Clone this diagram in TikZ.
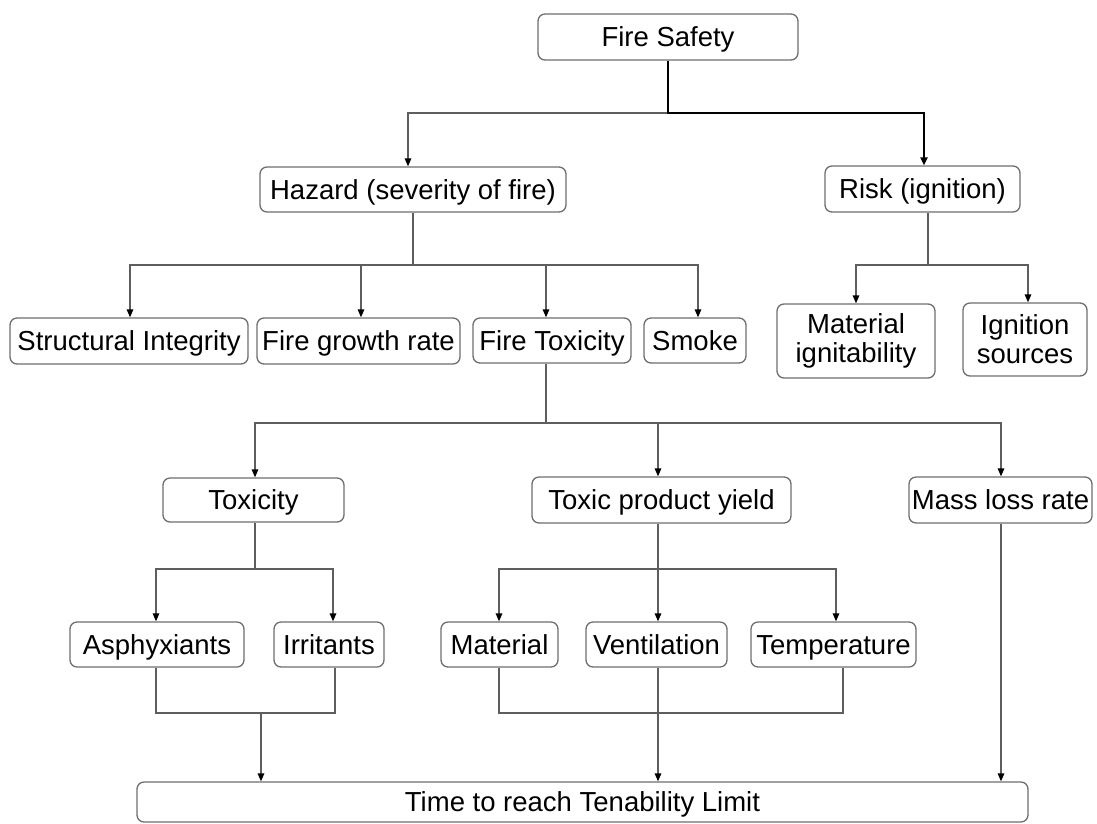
\documentclass[tikz,border=0pt]{standalone}
\usepackage{fontspec}
\setmainfont{Liberation Sans}
\usetikzlibrary{arrows.meta}
\definecolor{boxgrey}{HTML}{6E6E6E}
\definecolor{linegrey}{HTML}{5E5E5E}
\begin{document}
\begin{tikzpicture}[x=1pt,y=-1pt,
  box/.style={draw=boxgrey, line width=1.3pt, rounded corners=7pt, fill=white,
    inner sep=0pt, align=center, text=black, font=\fontsize{27.5}{29}\selectfont},
  onebox/.style={box, text height=19.8pt, text depth=0pt},
  conn/.style={draw=linegrey, line width=1.4pt},
  arr/.style={conn, -{Triangle[length=8pt,width=6.5pt,color=black]}},
  thickarr/.style={draw=black, line width=2.6pt, -{Triangle[length=8pt,width=7pt,color=black]}}]
\useasboundingbox (0,0) rectangle (1097,823);

% nodes
\node[onebox, minimum width=260pt, minimum height=46pt] (fs)   at (668,37)    {Fire Safety};
\node[onebox, minimum width=306pt, minimum height=45pt] (haz)  at (413,189.5) {Hazard (severity of fire)};
\node[onebox, minimum width=195pt, minimum height=46pt] (risk) at (922.5,189) {Risk (ignition)};

\node[onebox, minimum width=238pt, minimum height=46pt] (si)   at (129,341)   {Structural Integrity};
\node[onebox, minimum width=203pt, minimum height=46pt] (fgr)  at (358.5,341) {Fire growth rate};
\node[onebox, minimum width=158pt, minimum height=45pt] (ft)   at (552,340.5) {Fire Toxicity};
\node[onebox, minimum width=102pt, minimum height=45pt] (sm)   at (695,340.5) {Smoke};
\node[box, minimum width=158pt, minimum height=74pt] (mi)   at (856,341)   {Material\\ignitability};
\node[box, minimum width=124pt, minimum height=73pt] (is)   at (1025,339.5) {Ignition\\sources};

\node[onebox, minimum width=181pt, minimum height=44pt] (tox)  at (253.5,500) {Toxicity};
\node[onebox, minimum width=259pt, minimum height=46pt] (tpy)  at (661.5,500) {Toxic product yield};
\node[onebox, minimum width=183pt, minimum height=46pt] (mlr)  at (1000.5,500) {Mass loss rate};

\node[onebox, minimum width=174pt, minimum height=45pt] (asp)  at (157,644.5) {Asphyxiants};
\node[onebox, minimum width=110pt, minimum height=45pt] (irr)  at (329,644.5) {Irritants};
\node[onebox, minimum width=117pt, minimum height=45pt] (mat)  at (499.5,644.5) {Material};
\node[onebox, minimum width=141pt, minimum height=45pt] (ven)  at (656.5,644.5) {Ventilation};
\node[onebox, minimum width=165pt, minimum height=45pt] (tem)  at (833.5,644.5) {Temperature};

\node[box, text height=19.8pt, text depth=-7pt, minimum width=891pt, minimum height=40pt] (ttl)  at (582.5,802) {Time to reach Tenability Limit};

% junctions
\coordinate (j1) at (668,113);
\coordinate (j2) at (413,265);
\coordinate (j3) at (928,265);
\coordinate (j4) at (546,423);
\coordinate (j5) at (255,569);
\coordinate (j6) at (658,569);
\coordinate (b1) at (261,713);
\coordinate (b2) at (658,713);

% level 1
\draw[arr] (j1) -| ([xshift=-5pt]haz.north);
\draw[thickarr] (fs.south) -- (j1) -| ([xshift=1.5pt]risk.north);

% hazard children
\draw[conn] (haz.south) -- (j2);
\draw[arr] (j2) -| ([xshift=1pt]si.north);
\draw[arr] (j2) -| ([xshift=2.5pt]fgr.north);
\draw[arr] (j2) -| ([xshift=-6pt]ft.north);
\draw[arr] (j2) -| ([xshift=3pt]sm.north);

% risk children
\draw[conn] ([xshift=5.5pt]risk.south) -- (j3);
\draw[arr] (j3) -| (mi.north);
\draw[arr] (j3) -| ([xshift=3pt]is.north);

% fire toxicity children
\draw[conn] ([xshift=-6pt]ft.south) -- (j4);
\draw[arr] (j4) -| ([xshift=1.5pt]tox.north);
\draw[arr] (j4) -| ([xshift=-3.5pt]tpy.north);
\draw[arr] (j4) -| ([xshift=0.5pt]mlr.north);

% toxicity children
\draw[conn] ([xshift=1.5pt]tox.south) -- (j5);
\draw[arr] (j5) -| ([xshift=-1pt]asp.north);
\draw[arr] (j5) -| ([xshift=4pt]irr.north);

% toxic product yield children
\draw[conn] ([xshift=-3.5pt]tpy.south) -- (j6);
\draw[arr] (j6) -| ([xshift=-0.5pt]mat.north);
\draw[arr] (j6) -- ([xshift=1.5pt]ven.north);
\draw[arr] (j6) -| ([xshift=2.5pt]tem.north);

% to bottom
\draw[conn] ([xshift=-1pt]asp.south) |- (b1) -| ([xshift=6pt]irr.south);
\draw[arr] (b1) -- (b1 |- ttl.north);
\draw[conn] ([xshift=-0.5pt]mat.south) |- (b2) -| ([xshift=9.5pt]tem.south);
\draw[arr] ([xshift=1.5pt]ven.south) -- (b2 |- ttl.north);
\draw[arr] ([xshift=0.5pt]mlr.south) -- ([xshift=0.5pt]mlr.south |- ttl.north);
\end{tikzpicture}
\end{document}
